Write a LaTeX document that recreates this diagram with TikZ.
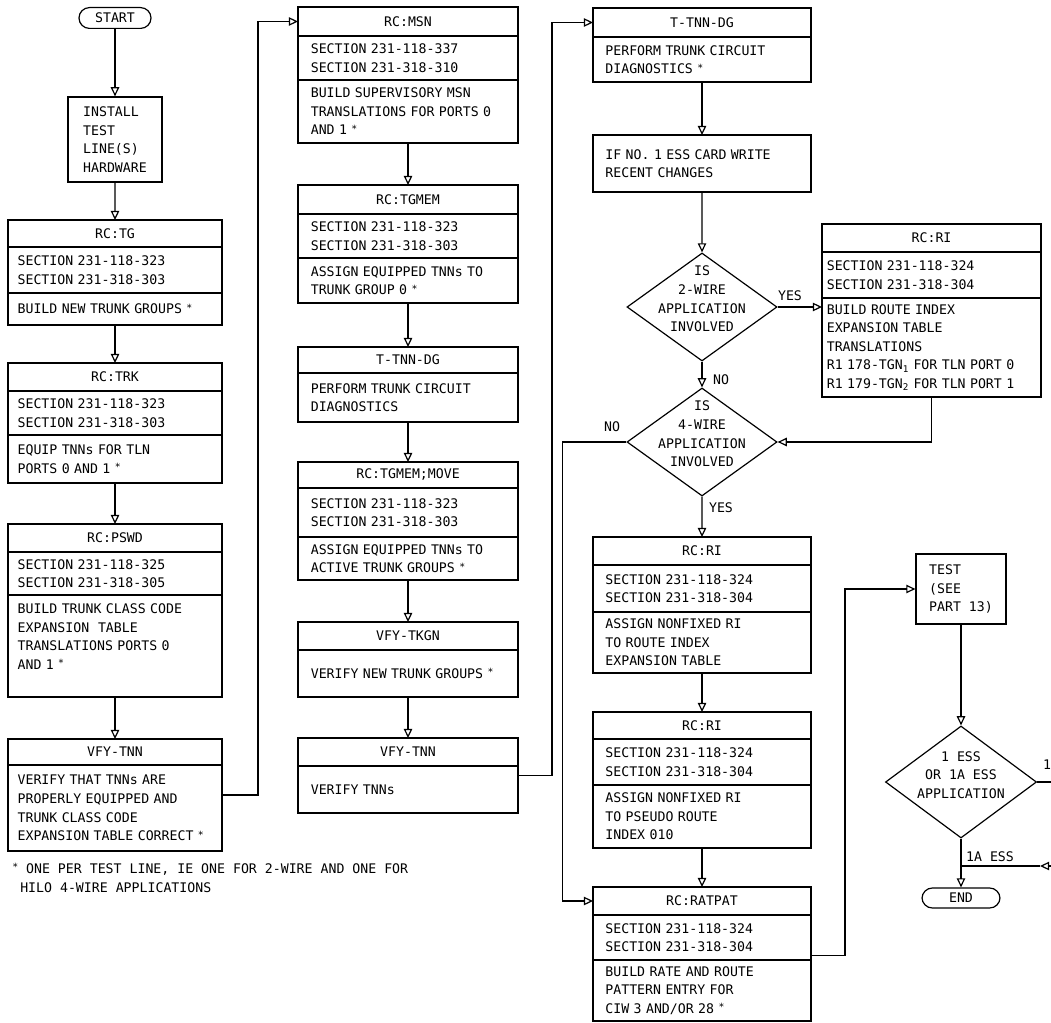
\documentclass[tikz,border=0pt]{standalone}
\usepackage{fontspec}
\setmainfont{DejaVu Sans Mono}
\usetikzlibrary{positioning,shapes.geometric,arrows.meta}
\newcommand\st{\raisebox{0.35ex}{\fontsize{7}{7}\selectfont *}}
\newcommand\fn{~\rlap{\st}}
\begin{document}
\begin{tikzpicture}[x=0.025cm, y=-0.025cm,
  font=\fontsize{9.4}{13.2}\selectfont,
  part/.style={draw, line width=0.85pt, outer sep=0pt, inner ysep=0pt, align=left},
  head/.style={part, align=center},
  colA/.style={text width=48.7mm, inner xsep=2.4mm},
  colB/.style={text width=48.6mm, inner xsep=3.2mm},
  colC/.style={text width=48.3mm, inner xsep=3.1mm},
  colD/.style={text width=52.35mm, inner xsep=1.2mm},
  flow/.style={line width=0.85pt, -{Triangle[open, length=6.5pt, width=6pt]}},
  wire/.style={line width=0.85pt},
  dec/.style={diamond, draw, line width=0.85pt, inner sep=0pt, minimum width=37.5mm, minimum height=27mm},
  term/.style={draw, line width=0.85pt, rounded corners=2.6mm, minimum width=18mm, minimum height=5.2mm, inner sep=0pt},
  lbl/.style={inner sep=0pt}]
\useasboundingbox (0,0) rectangle (1051,1023);

% column 1
\node[term] (start) at (115,18) {START};
\node[draw, line width=0.85pt, align=left, minimum width=23.5mm, minimum height=21.25mm] (inst) at (115,139.5) {INSTALL\\TEST\\LINE(S)\\HARDWARE};

\node[head, colA, minimum height=6.75mm, anchor=north west] (tgH) at (8,220) {RC:TG};
\node[part, colA, minimum height=11.5mm, below=0pt of tgH] (tgS) {SECTION 231-118-323\\SECTION 231-318-303};
\node[part, colA, minimum height=8mm, below=0pt of tgS] (tgB) {BUILD NEW TRUNK GROUPS\fn};

\node[head, colA, minimum height=7mm, anchor=north west] (trkH) at (8,363) {RC:TRK};
\node[part, colA, minimum height=11mm, below=0pt of trkH] (trkS) {SECTION 231-118-323\\SECTION 231-318-303};
\node[part, colA, minimum height=12mm, below=0pt of trkS] (trkB) {EQUIP TNNs FOR TLN\\PORTS 0 AND 1\fn};

\node[head, colA, minimum height=7mm, anchor=north west] (pswH) at (8,524) {RC:PSWD};
\node[part, colA, minimum height=10.75mm, below=0pt of pswH] (pswS) {SECTION 231-118-325\\SECTION 231-318-305};
\node[part, colA, minimum height=25.5mm, below=0pt of pswS] (pswB) {BUILD TRUNK CLASS CODE\\EXPANSION~ TABLE\\TRANSLATIONS PORTS 0\\AND 1\fn\\\mbox{}};

\node[head, colA, minimum height=6.5mm, anchor=north west] (vfyAH) at (8,739) {VFY-TNN};
\node[part, colA, minimum height=21.5mm, below=0pt of vfyAH] (vfyAB) {VERIFY THAT TNNs ARE\\PROPERLY EQUIPPED AND\\TRUNK CLASS CODE\\EXPANSION TABLE CORRECT\fn};

\node[lbl, anchor=base west, align=left] (note) at (12,892) {\st~ONE PER TEST LINE, IE ONE FOR 2-WIRE AND ONE FOR\\\hspace*{2mm}HILO 4-WIRE APPLICATIONS};

% column 2
\node[head, colB, minimum height=7.25mm, anchor=north west] (msnH) at (298,7) {RC:MSN};
\node[part, colB, minimum height=11mm, below=0pt of msnH] (msnS) {SECTION 231-118-337\\SECTION 231-318-310};
\node[part, colB, minimum height=15.75mm, below=0pt of msnS] (msnB) {BUILD SUPERVISORY MSN\\TRANSLATIONS FOR PORTS 0\\AND 1\fn};

\node[head, colB, minimum height=7.25mm, anchor=north west] (memH) at (298,185) {RC:TGMEM};
\node[part, colB, minimum height=11mm, below=0pt of memH] (memS) {SECTION 231-118-323\\SECTION 231-318-303};
\node[part, colB, minimum height=11.25mm, below=0pt of memS] (memB) {ASSIGN EQUIPPED TNNs TO\\TRUNK GROUP 0\fn};

\node[head, colB, minimum height=6.5mm, anchor=north west] (dgAH) at (298,347) {T-TNN-DG};
\node[part, colB, minimum height=12.25mm, below=0pt of dgAH] (dgAB) {PERFORM TRUNK CIRCUIT\\DIAGNOSTICS};

\node[head, colB, minimum height=6.5mm, anchor=north west] (movH) at (298,462) {RC:TGMEM;MOVE};
\node[part, colB, minimum height=12.25mm, below=0pt of movH] (movS) {SECTION 231-118-323\\SECTION 231-318-303};
\node[part, colB, minimum height=10.75mm, below=0pt of movS] (movB) {ASSIGN EQUIPPED TNNs TO\\ACTIVE TRUNK GROUPS\fn};

\node[head, colB, minimum height=7mm, anchor=north west] (tkgH) at (298,622) {VFY-TKGN};
\node[part, colB, minimum height=11.75mm, below=0pt of tkgH] (tkgB) {VERIFY NEW TRUNK GROUPS\fn};

\node[head, colB, minimum height=7mm, anchor=north west] (vfyBH) at (298,738) {VFY-TNN};
\node[part, colB, minimum height=11.75mm, below=0pt of vfyBH] (vfyBB) {VERIFY TNNs};

% column 3
\node[head, colC, minimum height=7.25mm, anchor=north west] (dgBH) at (593,8) {T-TNN-DG};
\node[part, colC, minimum height=11.25mm, below=0pt of dgBH] (dgBB) {PERFORM TRUNK CIRCUIT\\DIAGNOSTICS\fn};

\node[part, colC, minimum height=14.25mm, anchor=north west] (card) at (593,135) {IF NO. 1 ESS CARD WRITE\\RECENT CHANGES};

\node[dec] (twoW) at (702,307) {};
\node[lbl, align=center] (twoWt) at ([yshift=2mm]twoW) {IS\\2-WIRE\\APPLICATION\\INVOLVED};
\node[dec] (fourW) at (702,442) {};
\node[lbl, align=center] (fourWt) at ([yshift=2mm]fourW) {IS\\4-WIRE\\APPLICATION\\INVOLVED};

\node[head, colC, minimum height=7mm, anchor=north west] (riAH) at (593,537) {RC:RI};
\node[part, colC, minimum height=11.75mm, below=0pt of riAH] (riAS) {SECTION 231-118-324\\SECTION 231-318-304};
\node[part, colC, minimum height=15.25mm, below=0pt of riAS] (riAB) {ASSIGN NONFIXED RI\\TO ROUTE INDEX\\EXPANSION TABLE};

\node[head, colC, minimum height=6.75mm, anchor=north west] (riBH) at (593,712) {RC:RI};
\node[part, colC, minimum height=11.5mm, below=0pt of riBH] (riBS) {SECTION 231-118-324\\SECTION 231-318-304};
\node[part, colC, minimum height=15.75mm, below=0pt of riBS] (riBB) {ASSIGN NONFIXED RI\\TO PSEUDO ROUTE\\INDEX 010};

\node[head, colC, minimum height=7mm, anchor=north west] (ratH) at (593,887) {RC:RATPAT};
\node[part, colC, minimum height=11.25mm, below=0pt of ratH] (ratS) {SECTION 231-118-324\\SECTION 231-318-304};
\node[part, colC, minimum height=15.25mm, below=0pt of ratS] (ratB) {BUILD RATE AND ROUTE\\PATTERN ENTRY FOR\\CIW 3 AND/OR 28\fn};

% column 4
\node[head, colD, minimum height=7mm, anchor=north west] (riCH) at (822,224) {RC:RI};
\node[part, colD, minimum height=11.5mm, below=0pt of riCH] (riCS) {SECTION 231-118-324\\SECTION 231-318-304};
\node[part, colD, minimum height=24.75mm, below=0pt of riCS] (riCB) {BUILD ROUTE INDEX\\EXPANSION TABLE\\TRANSLATIONS\\R1 178-TGN\textsubscript{1} FOR TLN PORT 0\\R1 179-TGN\textsubscript{2} FOR TLN PORT 1};

\node[draw, line width=0.85pt, align=left, minimum width=22.5mm, minimum height=17.5mm] (test) at (961,589) {TEST\\(SEE\\PART 13)};
\node[dec, minimum width=37.75mm, minimum height=28mm] (ess) at (961,782) {};
\node[lbl, align=center] (esst) at ([yshift=1.75mm]ess) {1 ESS\\OR 1A ESS\\APPLICATION};
\node[term, minimum width=19.5mm, minimum height=5mm] (end) at (961,898) {END};

% labels
\node[lbl] (yesA) at (790,296) {YES};
\node[lbl] (noA) at (721,380) {NO};
\node[lbl] (noB) at (612,427) {NO};
\node[lbl] (yesB) at (721,508) {YES};
\node[lbl] (oneA) at (1047,765) {1};
\node[lbl] (essA) at (990,857) {1A ESS};

\coordinate (rIn) at (1051,866);
\coordinate (rTip) at (1040,866);

% connectors
\draw[flow] (start) -- (inst);
\draw[flow] (inst) -- (tgH);
\draw[flow] (tgB) -- (trkH);
\draw[flow] (trkB) -- (pswH);
\draw[flow] (pswB) -- (vfyAH);
\draw[flow] ([yshift=3.25mm]vfyAB.east) -- ++(36,0) |- (msnH.west);

\draw[flow] (msnB) -- (memH);
\draw[flow] (memB) -- (dgAH);
\draw[flow] (dgAB) -- (movH);
\draw[flow] (movB) -- (tkgH);
\draw[flow] (tkgB) -- (vfyBH);
\draw[flow] ([yshift=3.6mm]vfyBB.east) -- ++(34,0) |- (dgBH.west);

\draw[flow] (dgBB) -- (card);
\draw[flow] (card) -- (twoW);
\draw[flow] (twoW.east) -- (twoW.east -| riCB.west);
\draw[flow] (twoW) -- (fourW);
\draw[flow] (riCB.south) |- (fourW.east);
\draw[flow] (fourW.west) -- ++(-64,0) |- (ratH.west);
\draw[flow] (fourW) -- (riAH);
\draw[flow] (riAB) -- (riBH);
\draw[flow] (riBB) -- (ratH);
\draw[flow] ([yshift=-4.4mm]ratS.east) -- ++(34,0) |- (test.west);

\draw[flow] (test) -- (ess);
\draw[wire] (ess.east) -- ++(15,0);
\draw[flow] (ess) -- (end);
\draw[flow] (rIn) -- (rTip);
\draw[wire] (rTip) -- (rTip -| end.north);
\end{tikzpicture}
\end{document}
